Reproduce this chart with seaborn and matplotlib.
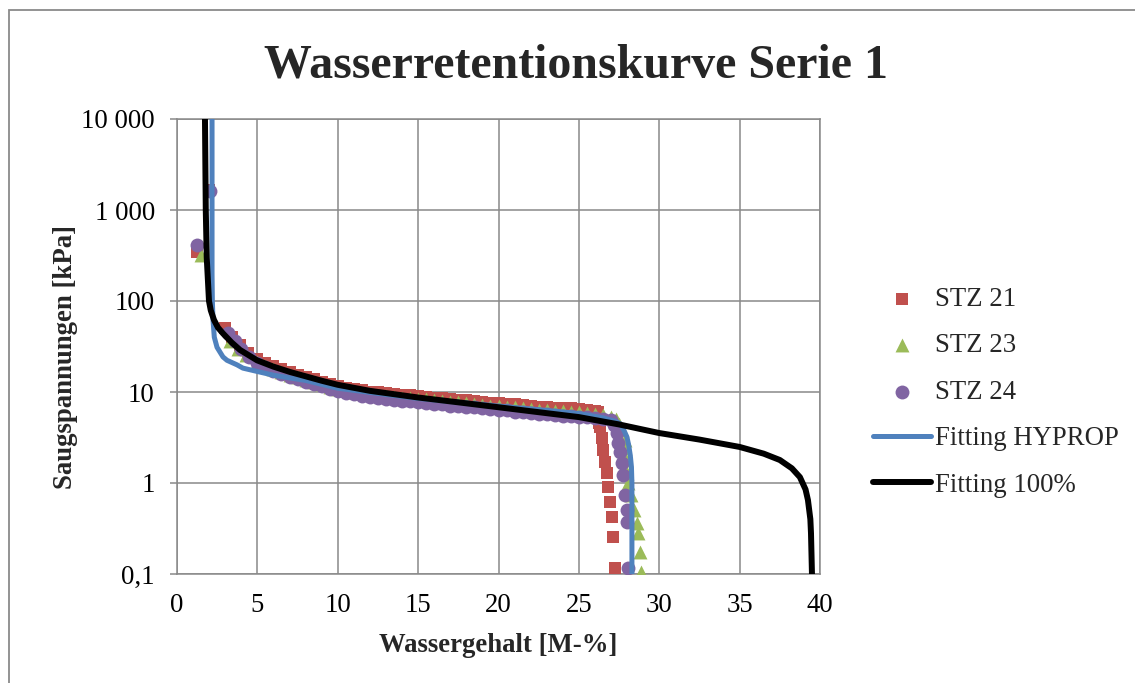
import matplotlib
matplotlib.use("Agg")
import matplotlib.pyplot as plt
import seaborn as sns
import pandas as pd
from matplotlib.ticker import FixedLocator, FixedFormatter, NullLocator
from matplotlib.patches import Rectangle

# ---------------- data ----------------
title = "Wasserretentionskurve Serie 1"
x_label = "Wassergehalt [M-%]"
y_label = "Saugspannungen [kPa]"
x_ticks = [0, 5, 10, 15, 20, 25, 30, 35, 40]
y_ticks = [0.1, 1, 10, 100, 1000, 10000]
y_tick_labels = ["0,1", "1", "10", "100", "1 000", "10 000"]

stz21_x = [1.22, 2.0, 3.0, 3.4, 3.9, 4.4, 5.0, 5.5, 6.0, 6.5, 7.0, 7.5, 8.0, 8.5, 9.0, 9.5,
           10.0, 10.5, 11.0, 11.5, 12.0, 12.5, 13.0, 13.5, 14.0, 14.5, 15.0, 15.5, 16.0, 16.5,
           17.0, 17.5, 18.0, 18.5, 19.0, 19.5, 20.0, 20.5, 21.0, 21.5, 22.0, 22.5, 23.0, 23.5,
           24.0, 24.5, 25.0, 25.5, 26.0, 26.2, 26.22, 26.25, 26.31, 26.44, 26.5, 26.63, 26.75,
           26.81, 26.94, 27.06, 27.12, 27.25]
stz21_y = [347, 1650, 51, 40, 33, 27, 23, 21, 19.2, 17.8, 16.6, 15.5, 14.6, 13.8, 13.0, 12.3,
           11.7, 11.1, 10.7, 10.4, 10.1, 9.9, 9.7, 9.5, 9.3, 9.2, 9.1, 8.9, 8.7, 8.6,
           8.4, 8.2, 8.1, 7.9, 7.8, 7.6, 7.5, 7.4, 7.3, 7.2, 7.0, 6.9, 6.8, 6.7,
           6.7, 6.6, 6.5, 6.4, 6.2, 6.0, 5.3, 4.6, 4.1, 3.12, 2.31, 1.70, 1.29,
           0.90, 0.62, 0.42, 0.255, 0.117]

stz23_x = [1.49, 3.3, 3.8, 4.3, 5.0, 5.5, 6.0, 6.5, 7.0, 7.5, 8.0, 8.5, 9.0, 9.5, 10.0, 10.5,
           11.0, 11.5, 12.0, 12.5, 13.0, 13.5, 14.0, 14.5, 15.0, 15.5, 16.0, 16.5, 17.0, 17.5,
           18.0, 18.5, 19.0, 19.5, 20.0, 20.5, 21.0, 21.5, 22.0, 22.5, 23.0, 23.5, 24.0, 24.5,
           25.0, 25.5, 26.0, 26.5, 27.0, 27.3, 27.5, 27.7, 27.85, 27.9, 27.95, 28.0, 28.06,
           28.24, 28.43, 28.62, 28.68, 28.8, 28.86]
stz23_y = [320, 36, 30, 25.5, 21.5, 19.5, 18.0, 16.6, 15.5, 14.5, 13.6, 12.8, 12.1, 11.4, 10.9, 10.4,
           10.0, 9.7, 9.4, 9.2, 9.0, 8.8, 8.7, 8.5, 8.4, 8.3, 8.1, 8.0, 7.8, 7.7,
           7.5, 7.4, 7.2, 7.1, 7.0, 6.9, 6.8, 6.7, 6.5, 6.4, 6.3, 6.2, 6.2, 6.1,
           6.0, 5.9, 5.8, 5.6, 5.3, 5.0, 4.4, 3.8, 3.0, 2.4, 1.8, 1.3, 1.0,
           0.74, 0.50, 0.363, 0.28, 0.175, 0.105]

stz24_x = [1.25, 2.05, 3.2, 3.6, 4.0, 4.5, 5.0, 5.5, 6.0, 6.5, 7.0, 7.5, 8.0, 8.5, 9.0, 9.5,
           10.0, 10.5, 11.0, 11.5, 12.0, 12.5, 13.0, 13.5, 14.0, 14.5, 15.0, 15.5, 16.0, 16.5,
           17.0, 17.5, 18.0, 18.5, 19.0, 19.5, 20.0, 20.5, 21.0, 21.5, 22.0, 22.5, 23.0, 23.5,
           24.0, 24.5, 25.0, 25.5, 26.0, 26.5, 27.0, 27.2, 27.37, 27.43, 27.56, 27.68, 27.75,
           27.87, 28.0, 28.0, 28.06]
stz24_y = [414, 1600, 44, 36, 30, 24.5, 21, 18.8, 17.2, 15.9, 14.8, 13.8, 13.0, 12.2, 11.5, 10.9,
           10.3, 9.8, 9.4, 9.1, 8.8, 8.6, 8.4, 8.2, 8.0, 7.9, 7.7, 7.6, 7.4, 7.3,
           7.1, 7.0, 6.9, 6.8, 6.6, 6.5, 6.4, 6.3, 6.1, 6.0, 5.9, 5.8, 5.7, 5.6,
           5.5, 5.4, 5.3, 5.25, 5.2, 5.1, 4.9, 4.3, 3.54, 2.75, 2.19, 1.66, 1.22,
           0.74, 0.50, 0.37, 0.116]

hyprop_x = [2.18, 2.18, 2.18, 2.2, 2.24, 2.32, 2.49, 2.86, 3.11, 3.73, 4.1, 5.0, 6.0, 7.0, 8.0,
            10.0, 12.0, 15.0, 17.5, 20.0, 22.5, 25.0, 26.5, 27.2, 27.56, 27.8, 27.99, 28.1,
            28.2, 28.27, 28.3, 28.3]
hyprop_y = [10000, 1000, 200, 100, 62, 40, 31, 24.3, 22.3, 19.9, 18.3, 16.8, 15.3, 14.3, 13.4,
            11.0, 9.9, 8.5, 7.7, 7.0, 6.4, 5.8, 5.2, 4.8, 4.5, 3.8, 3.2, 2.6,
            2.0, 1.5, 1.0, 0.1]

fit100_x = [1.74, 1.79, 1.85, 1.99, 2.10, 2.3, 2.55, 2.86, 3.4, 3.92, 4.98, 6.0, 7.03, 9.0,
            10.0, 12.0, 15.0, 17.5, 20.0, 22.5, 25.0, 27.5, 30.0, 32.5, 35.0, 36.5, 37.5,
            38.25, 38.75, 39.1, 39.25, 39.4, 39.44, 39.5]
fit100_y = [10000, 1000, 300, 100, 79, 62, 51, 44, 35, 29, 22.3, 19.0, 16.6, 13.3,
            12.0, 10.3, 8.7, 7.7, 6.8, 6.0, 5.3, 4.4, 3.54, 3.0, 2.49, 2.1, 1.79,
            1.45, 1.16, 0.85, 0.65, 0.4, 0.28, 0.1]

# ---------------- style ----------------
sns.set_theme(style="white")
SERIF = ["Liberation Serif", "DejaVu Serif"]
plt.rcParams["font.family"] = SERIF
GRID = "#898989"
FS = 19.3

W, H = 1135, 683
fig = plt.figure(figsize=(W / 100, H / 100), dpi=100)
ax = fig.add_axes([177 / W, 1 - 574 / H, (820 - 177) / W, (574 - 119) / H])

df21 = pd.DataFrame({"x": stz21_x, "y": stz21_y})
df23 = pd.DataFrame({"x": stz23_x, "y": stz23_y})
df24 = pd.DataFrame({"x": stz24_x, "y": stz24_y})
dfh = pd.DataFrame({"x": hyprop_x, "y": hyprop_y})
dff = pd.DataFrame({"x": fit100_x, "y": fit100_y})

sns.scatterplot(data=df21, x="x", y="y", marker="s", color="#C0504D", s=85,
                linewidth=0, label="STZ 21", ax=ax, zorder=3)
sns.scatterplot(data=df23, x="x", y="y", marker="^", color="#9BBB59", s=100,
                linewidth=0, label="STZ 23", ax=ax, zorder=3)
sns.scatterplot(data=df24, x="x", y="y", marker="o", color="#8064A2", s=100,
                linewidth=0, label="STZ 24", ax=ax, zorder=3)
sns.lineplot(data=dfh, x="x", y="y", sort=False, estimator=None, color="#4F81BD",
             linewidth=3.6, label="Fitting HYPROP", ax=ax, zorder=4)
sns.lineplot(data=dff, x="x", y="y", sort=False, estimator=None, color="#000000",
             linewidth=4.3, label="Fitting 100%", ax=ax, zorder=5)

ax.set_yscale("log")
ax.set_xlim(0, 40)
ax.set_ylim(0.1, 10000)
ax.xaxis.set_major_locator(FixedLocator(x_ticks))
ax.yaxis.set_major_locator(FixedLocator(y_ticks))
ax.yaxis.set_major_formatter(FixedFormatter(y_tick_labels))
ax.yaxis.set_minor_locator(NullLocator())
ax.xaxis.set_minor_locator(NullLocator())
ax.grid(True, which="major", color=GRID, linewidth=1.1)
ax.set_axisbelow(True)
for side in ["left", "bottom", "top", "right"]:
    ax.spines[side].set_color(GRID)
    ax.spines[side].set_linewidth(1.1)
ax.tick_params(axis="y", which="major", length=5, width=1.1, color=GRID, pad=11,
               labelsize=FS, labelcolor="black", left=True)
ax.tick_params(axis="x", which="major", length=0, pad=14, labelsize=FS, labelcolor="black")
for lab in ax.get_xticklabels() + ax.get_yticklabels():
    lab.set_family(SERIF)
ax.set_xlabel("")
ax.set_ylabel("")

fig.text(576 / W, 1 - 65 / H, title, ha="center", va="center", fontsize=34.5,
         fontweight="bold", family=SERIF)
fig.text(498 / W, 1 - 646 / H, x_label, ha="center", va="center", fontsize=FS,
         fontweight="bold", family=SERIF)
fig.text(66 / W, 1 - 357 / H, y_label, ha="center", va="center", fontsize=FS,
         fontweight="bold", family=SERIF, rotation=90)

leg = ax.legend(frameon=False, loc="upper left", bbox_to_anchor=(873 / W, 1 - 287 / H),
                bbox_transform=fig.transFigure, handlelength=2.15, handletextpad=0.15,
                labelspacing=0.80, borderaxespad=0, borderpad=0,
                prop={"family": SERIF, "size": FS})

fig.patches.append(Rectangle((9 / W, -0.05), 1.2, (1 - 10 / H) + 0.05, transform=fig.transFigure,
                             fill=False, edgecolor="#8a8a8a", linewidth=1.3, clip_on=False))

fig.savefig("out.png", dpi=100)
